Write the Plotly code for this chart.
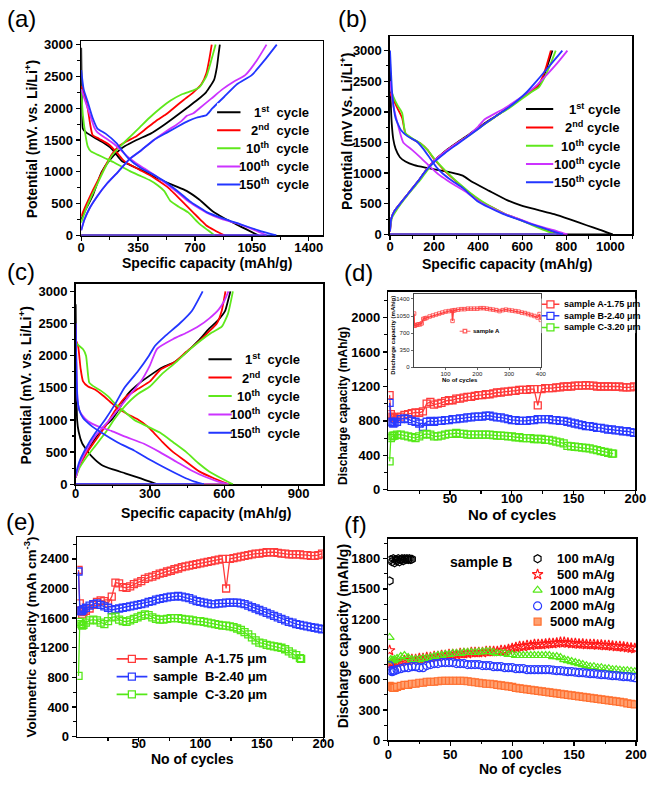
import plotly.graph_objects as go

W, H = 660, 785
FONT = "Liberation Sans"

# ===================== DATA =====================
# (a),(b),(c): galvanostatic profiles, points are (capacity mAh/g, potential mV)
a_1st_dis = [(0,2950),(3,2300),(6,1800),(10,1680),(30,1620),(80,1540),(130,1470),(180,1380),(220,1260),(250,1170),(290,1120),(340,1060),(400,990),(460,910),(520,840),(580,775),(648,700),(728,560),(808,380),(880,270),(949,180),(1020,90),(1090,0)]
a_1st_chg = [(0,250),(30,420),(70,620),(126,1000),(180,1200),(230,1330),(267,1400),(340,1500),(427,1600),(500,1720),(570,1850),(648,2000),(710,2120),(768,2250),(818,2450),(835,2650),(845,2850),(853,3000)]
a_2nd_dis = [(0,2350),(20,2200),(40,2000),(55,1750),(70,1580),(110,1520),(170,1430),(220,1300),(260,1180),(300,1110),(360,1030),(420,950),(480,850),(540,740),(580,640),(618,543),(688,362),(740,230),(768,160),(820,80),(881,0)]
a_2nd_chg = [(0,300),(30,480),(70,700),(110,900),(150,1100),(190,1280),(230,1400),(280,1480),(340,1560),(400,1680),(460,1800),(520,1900),(568,2000),(630,2130),(690,2250),(740,2380),(770,2550),(790,2800),(803,3000)]
a_10th_dis = [(0,2300),(10,1900),(25,1600),(40,1400),(60,1320),(100,1270),(150,1210),(200,1150),(250,1080),(300,1010),(360,940),(420,870),(470,790),(510,700),(548,543),(600,450),(658,362),(728,181),(780,80),(821,0)]
a_10th_chg = [(0,200),(30,420),(70,650),(110,870),(150,1080),(190,1260),(240,1400),(300,1550),(360,1700),(420,1850),(487,2000),(550,2120),(620,2220),(690,2280),(728,2330),(770,2500),(800,2750),(827,3000)]
a_100th_dis = [(0,2300),(20,2150),(40,2000),(60,1850),(80,1700),(100,1620),(150,1530),(200,1440),(240,1350),(280,1250),(330,1150),(390,1050),(450,950),(520,820),(590,680),(655,543),(710,450),(768,362),(870,250),(969,181),(1060,90),(1140,0)]
a_100th_chg = [(0,80),(20,250),(50,420),(100,620),(160,820),(227,1000),(297,1200),(370,1340),(447,1500),(530,1650),(580,1730),(618,1800),(650,1880),(690,1920),(728,2000),(800,2150),(870,2300),(940,2420),(1009,2520),(1080,2750),(1140,3000)]
a_150th_dis = [(0,2600),(15,2300),(40,2100),(70,1850),(100,1680),(150,1600),(217,1450),(287,1220),(367,1060),(440,960),(500,870),(560,760),(620,640),(665,543),(720,450),(775,362),(880,260),(980,175),(1090,80),(1200,0)]
a_150th_chg = [(0,80),(20,250),(50,420),(100,620),(160,820),(227,1000),(297,1200),(370,1340),(447,1500),(530,1620),(600,1720),(660,1800),(708,1850),(740,1870),(770,1890),(808,2000),(880,2180),(960,2380),(1049,2520),(1130,2760),(1203,3000)]

b_1st_dis = [(0,2900),(3,2200),(8,1800),(15,1550),(25,1400),(45,1260),(70,1190),(110,1130),(160,1090),(220,1050),(280,1010),(330,960),(376,850),(450,710),(531,560),(597,470),(670,400),(745,330),(820,240),(892,150),(950,80),(1010,0)]
b_1st_chg = [(0,50),(5,250),(20,380),(50,520),(90,700),(130,880),(160,1030),(200,1200),(250,1360),(300,1490),(350,1610),(400,1740),(440,1840),(480,1930),(530,2050),(580,2180),(630,2310),(665,2390),(695,2560),(715,2760),(737,3000)]
b_2nd_dis = [(0,2300),(15,2200),(35,2050),(55,1900),(70,1650),(100,1560),(140,1480),(170,1380),(200,1230),(240,1070),(280,930),(320,800),(360,680),(410,547),(470,430),(530,320),(583,250),(640,170),(700,90),(770,0)]
b_2nd_chg = [(0,50),(5,250),(20,380),(50,520),(90,700),(130,880),(160,1030),(200,1200),(250,1350),(300,1480),(350,1600),(400,1730),(440,1830),(480,1930),(530,2050),(580,2180),(630,2320),(665,2400),(690,2550),(710,2750),(730,3000)]
b_10th_dis = [(0,2400),(15,2250),(35,2100),(55,1980),(70,1650),(100,1570),(140,1480),(170,1380),(200,1240),(240,1080),(280,940),(320,810),(360,690),(415,547),(470,430),(530,320),(583,250),(640,160),(700,70),(755,0)]
b_10th_chg = [(0,100),(10,280),(30,400),(60,550),(100,730),(140,900),(170,1050),(210,1220),(260,1370),(310,1500),(360,1620),(410,1750),(450,1850),(490,1950),(540,2060),(590,2190),(640,2320),(675,2400),(700,2550),(725,2750),(752,3000)]
b_100th_dis = [(0,2500),(15,2100),(35,1800),(60,1500),(100,1380),(140,1250),(180,1110),(220,980),(260,880),(300,790),(350,680),(400,547),(450,450),(510,350),(570,270),(630,190),(700,110),(760,50),(805,0)]
b_100th_chg = [(0,50),(5,250),(20,380),(50,520),(90,700),(130,880),(160,1030),(200,1200),(250,1350),(300,1480),(350,1600),(400,1760),(430,1880),(470,1960),(520,2060),(580,2200),(630,2330),(670,2450),(710,2600),(760,2800),(805,3000)]
b_150th_dis = [(0,3000),(10,2300),(25,1900),(50,1700),(80,1600),(120,1520),(150,1400),(180,1250),(210,1100),(240,990),(280,880),(330,760),(395,547),(450,440),(510,340),(570,260),(630,180),(690,110),(740,50),(785,0)]
b_150th_chg = [(0,50),(5,250),(20,380),(50,520),(90,700),(130,880),(160,1030),(200,1180),(250,1330),(300,1460),(350,1590),(400,1720),(440,1830),(480,1930),(530,2050),(580,2190),(620,2320),(660,2480),(700,2650),(740,2820),(782,3000)]

c_1st_dis = [(0,2800),(3,1500),(6,1000),(12,820),(26,640),(45,530),(66,430),(105,300),(150,230),(200,170),(263,90),(300,40),(330,0)]
c_1st_chg = [(0,100),(15,300),(40,500),(80,720),(110,880),(145,1000),(180,1200),(210,1400),(260,1580),(342,1800),(400,1900),(447,2050),(500,2250),(539,2420),(575,2550),(604,2700),(615,2850),(625,3000)]
c_2nd_dis = [(0,2250),(10,2150),(20,1800),(30,1600),(50,1520),(80,1470),(110,1380),(140,1280),(170,1180),(210,1090),(250,1010),(290,900),(316,800),(350,660),(394,500),(440,370),(499,200),(560,90),(620,0)]
c_2nd_chg = [(0,100),(15,280),(40,460),(80,680),(120,900),(160,1150),(200,1350),(250,1480),(300,1600),(342,1780),(400,1900),(447,2060),(500,2230),(540,2380),(570,2500),(590,2700),(605,3000)]
c_10th_dis = [(0,2200),(15,2150),(30,2100),(42,2000),(55,1580),(70,1530),(100,1460),(130,1370),(160,1250),(200,1120),(237,1000),(290,900),(342,800),(395,650),(447,500),(495,330),(539,200),(590,90),(635,0)]
c_10th_chg = [(0,100),(15,250),(40,400),(80,600),(120,800),(160,1030),(200,1220),(250,1400),(300,1520),(350,1720),(400,1880),(450,2060),(500,2220),(550,2360),(590,2450),(615,2650),(635,3000)]
c_100th_dis = [(0,2500),(4,1700),(8,1300),(15,1150),(25,1080),(50,980),(90,900),(144,830),(200,740),(276,630),(340,500),(407,350),(470,210),(520,120),(570,50),(617,0)]
c_100th_chg = [(0,100),(15,300),(40,500),(80,750),(145,1036),(200,1300),(263,1597),(300,1850),(329,2107),(394,2260),(450,2360),(499,2464),(540,2580),(578,2720),(600,2850),(617,3000)]
c_150th_dis = [(0,2500),(4,1600),(8,1300),(15,1150),(30,1030),(60,920),(105,800),(170,650),(236,525),(300,380),(368,240),(430,120),(480,40),(518,0)]
c_150th_chg = [(0,150),(15,350),(40,550),(80,800),(118,1000),(160,1250),(197,1500),(250,1750),(296,2000),(320,2150),(360,2300),(420,2500),(470,2700),(513,3000)]

cycle_labels = ["1<sup>st</sup>", "2<sup>nd</sup>", "10<sup>th</sup>", "100<sup>th</sup>", "150<sup>th</sup>"]
cycle_colors = ["#000000", "#FF0000", "#5FE81C", "#CC33FF", "#2236FF"]

# (d),(e),(f): cycling data
cyc = [1, 2, 3, 4, 5] + list(range(7, 200, 3))
cyc_C = cyc[:64] + [182]

d_A = [1100, 880, 850, 840, 830,
       840, 850, 870, 880, 890, 900, 895, 910, 1000, 1020,
       990, 1000, 1010, 1030, 1040, 1040, 1060, 1060, 1070, 1080,
       1080, 1090, 1100, 1100, 1110, 1110, 1120, 1130, 1130, 1140,
       1140, 1150, 1150, 1160, 1160, 1160, 1170, 1170, 980, 1170,
       1180, 1180, 1180, 1190, 1190, 1200, 1200, 1200, 1210, 1210,
       1210, 1215, 1210, 1210, 1200, 1200, 1200, 1200, 1200, 1195,
       1200, 1190, 1190, 1190, 1200]
d_B = [1010, 790, 780, 770, 780,
       790, 820, 830, 820, 800, 790, 770, 730, 790, 800,
       790, 800, 800, 810, 810, 820, 820, 830, 830, 840,
       840, 850, 850, 850, 860, 860, 850, 840, 840, 830,
       820, 810, 810, 800, 800, 800, 810, 810, 820, 820,
       820, 820, 810, 810, 800, 800, 790, 780, 770, 760,
       750, 740, 740, 730, 720, 720, 710, 700, 700, 690,
       690, 680, 680, 670, 660]
d_C = [330, 600, 620, 630, 630,
       640, 640, 630, 620, 610, 600, 620, 640, 650, 640,
       620, 620, 630, 640, 650, 650, 660, 650, 650, 640,
       640, 640, 640, 640, 640, 640, 635, 630, 630, 625,
       620, 620, 610, 610, 600, 600, 600, 590, 590, 590,
       580, 580, 570, 560, 550, 540, 510, 505, 500, 495,
       490, 485, 480, 470, 460, 450, 440, 430, 420,
       420]

e_A = [2250, 1800, 1700, 1650, 1680,
       1700, 1730, 1780, 1820, 1840, 1830, 1800, 1890, 2080, 2070,
       2020, 2010, 2030, 2060, 2080, 2100, 2130, 2150, 2160, 2180,
       2200, 2210, 2230, 2240, 2260, 2270, 2290, 2300, 2310, 2320,
       2330, 2340, 2350, 2360, 2370, 2380, 2390, 2400, 2000, 2400,
       2410, 2420, 2430, 2440, 2450, 2460, 2470, 2470, 2480, 2490,
       2490, 2490, 2480, 2470, 2470, 2460, 2460, 2460, 2460, 2450,
       2450, 2440, 2440, 2450, 2470]
e_B = [2230, 1700, 1690, 1700, 1720,
       1740, 1770, 1790, 1800, 1780, 1760, 1740, 1710, 1720, 1730,
       1740, 1750, 1760, 1770, 1780, 1790, 1800, 1820, 1830, 1850,
       1860, 1870, 1880, 1890, 1890, 1900, 1890, 1880, 1870, 1850,
       1830, 1820, 1810, 1800, 1790, 1790, 1800, 1800, 1810, 1810,
       1810, 1810, 1800, 1790, 1770, 1750, 1730, 1710, 1690, 1670,
       1650, 1630, 1610, 1590, 1570, 1550, 1540, 1520, 1510, 1500,
       1490, 1480, 1470, 1460, 1450]
e_C = [820, 1550, 1520, 1500, 1510,
       1540, 1570, 1580, 1570, 1540, 1520, 1560, 1610, 1620, 1580,
       1560, 1550, 1570, 1590, 1610, 1630, 1650, 1640, 1610, 1590,
       1580, 1580, 1590, 1600, 1600, 1600, 1590, 1580, 1580, 1570,
       1560, 1560, 1550, 1540, 1530, 1520, 1510, 1500, 1500, 1490,
       1480, 1460, 1440, 1410, 1380, 1340, 1300, 1270, 1260, 1240,
       1230, 1220, 1210, 1200, 1180, 1150, 1120, 1100, 1060,
       1050]

f_cyc_100 = list(range(1, 20))
f_100 = [1580, 1790, 1770, 1800, 1760, 1790, 1780, 1800, 1770, 1790,
         1800, 1780, 1800, 1790, 1800, 1790, 1800, 1790, 1795]
f_500 = [890, 760, 760, 770, 770,
         770, 780, 790, 790, 800, 800, 810, 810, 820, 820,
         830, 830, 840, 840, 850, 850, 850, 860, 860, 860,
         870, 870, 870, 870, 880, 880, 880, 880, 890, 890,
         900, 910, 920, 930, 930, 940, 940, 950, 950, 950,
         955, 960, 960, 965, 970, 970, 965, 960, 960, 955,
         955, 950, 950, 950, 945, 945, 940, 940, 935, 930,
         930, 925, 920, 915, 910]
f_1000 = [1020, 800, 790, 790, 800,
          810, 830, 840, 820, 800, 800, 800, 810, 810, 820,
          830, 840, 840, 850, 850, 860, 860, 860, 870, 870,
          870, 870, 875, 875, 880, 880, 870, 860, 860, 860,
          850, 850, 840, 840, 840, 840, 840, 840, 840, 840,
          840, 840, 830, 830, 820, 800, 790, 780, 770, 760,
          750, 740, 730, 730, 720, 720, 710, 710, 700, 700,
          695, 690, 690, 685, 680]
f_2000 = [740, 690, 680, 690, 690,
          700, 710, 720, 720, 730, 730, 720, 720, 740, 750,
          760, 760, 770, 770, 770, 770, 760, 760, 760, 750,
          750, 750, 750, 740, 740, 740, 730, 730, 730, 720,
          720, 720, 710, 710, 710, 700, 700, 700, 700, 700,
          700, 700, 695, 690, 690, 685, 680, 680, 675, 670,
          670, 665, 660, 660, 655, 650, 650, 645, 640, 640,
          635, 630, 630, 625, 620]
f_5000 = [540, 530, 530, 520, 520,
          530, 540, 550, 550, 560, 560, 570, 570, 580, 580,
          580, 585, 590, 590, 590, 590, 590, 590, 590, 585,
          580, 575, 570, 565, 560, 560, 555, 550, 545, 540,
          535, 530, 520, 515, 510, 505, 500, 495, 490, 485,
          480, 475, 470, 465, 460, 455, 450, 445, 440, 435,
          430, 425, 420, 415, 410, 405, 400, 395, 390, 385,
          380, 375, 365, 360, 355]

# inset of (d): sample A over 400 cycles
ins_cyc = [1, 2, 5, 10, 15, 20, 25, 30, 35, 40, 50, 60, 70, 80, 90, 100, 110, 120, 122, 125,
           130, 140, 150, 160, 170, 180, 190, 200, 210, 220, 230, 240, 250, 260, 270, 280, 290, 300,
           310, 320, 330, 340, 350, 360, 370, 380, 390, 396, 400]
ins_A = [1100, 850, 860, 870, 880, 880, 900, 990, 1000, 1010, 1040, 1060, 1080, 1100, 1120, 1140,
         1150, 1160, 950, 1160, 1170, 1180, 1190, 1190, 1200, 1200, 1200, 1200, 1210, 1210, 1200,
         1190, 1180, 1170, 1150, 1170, 1180, 1170, 1160, 1150, 1140, 1120, 1110, 1090, 1070, 1050,
         1020, 1090, 970]

for arr in (d_A, d_B, e_A, e_B, f_500, f_1000, f_2000, f_5000):
    assert len(arr) == len(cyc), len(arr)
for arr in (d_C, e_C):
    assert len(arr) == len(cyc_C), len(arr)
assert len(ins_A) == len(ins_cyc)
assert len(f_100) == len(f_cyc_100)

sampleABC = ["sample A-1.75 \u03bcm", "sample B-2.40 \u03bcm", "sample C-3.20 \u03bcm"]
sampleABC_e = ["sample\u00a0 A-1.75 \u03bcm", "sample\u00a0 B-2.40 \u03bcm", "sample\u00a0 C-3.20 \u03bcm"]
rate_labels = ["100 mA/g", "500 mA/g", "1000 mA/g", "2000 mA/g", "5000 mA/g"]

# ===================== STYLE / LAYOUT =====================
def dom_x(l, r):
    return [l / W, r / W]

def dom_y(t, b):
    return [1 - b / H, 1 - t / H]

TICKFONT = dict(family=FONT, size=13, color="black", weight="bold")

def axis(domain, rng, anchor, minor=None, **kw):
    d = dict(domain=domain, range=rng, anchor=anchor, showline=True, linecolor="black",
             linewidth=1.6, mirror=True, ticks="outside", ticklen=4, tickwidth=1.3,
             tickcolor="black", showgrid=False, zeroline=False, tickfont=TICKFONT,
             fixedrange=True)
    if minor is not None:
        m = dict(ticks="outside", ticklen=2.5, tickwidth=1.1, tickcolor="black", showgrid=False)
        m.update(minor)
        d["minor"] = m
    d.update(kw)
    return d

layout = dict(width=W, height=H, margin=dict(l=0, r=0, t=0, b=0),
              paper_bgcolor="white", plot_bgcolor="white", showlegend=False)

# panel domains (pixels)
PA = dict(x=(79, 326), y=(38, 235))
PB = dict(x=(395, 643), y=(33, 234))
PC = dict(x=(73.3, 326.7), y=(284, 487.7))
PD = dict(x=(393.3, 646), y=(292.3, 493.3))
PE = dict(x=(75, 326.7), y=(541.7, 744))
PF = dict(x=(393.3, 646.7), y=(543.3, 747.7))
PI = dict(x=(419.3, 549.3), y=(295, 369))

layout["xaxis"] = axis(dom_x(*PA["x"]), [0, 1485], "y", tick0=0, dtick=350,
                       minor=dict(tick0=0, dtick=175), layer="below traces", ticklabelstandoff=-5)
layout["yaxis"] = axis(dom_y(*PA["y"]), [0, 3050], "x", tick0=0, dtick=500,
                       minor=dict(tick0=0, dtick=250))
layout["xaxis2"] = axis(dom_x(*PB["x"]), [0, 1100], "y2", tick0=0, dtick=200,
                        minor=dict(tick0=0, dtick=100), layer="below traces", ticklabelstandoff=-5)
layout["yaxis2"] = axis(dom_y(*PB["y"]), [0, 3230], "x2", tick0=0, dtick=500,
                        minor=dict(tick0=0, dtick=250))
layout["xaxis3"] = axis(dom_x(*PC["x"]), [0, 1000], "y3", tick0=0, dtick=300,
                        minor=dict(tick0=0, dtick=150), layer="below traces", ticklabelstandoff=-7)
layout["yaxis3"] = axis(dom_y(*PC["y"]), [0, 3120], "x3", tick0=0, dtick=500,
                        minor=dict(tick0=0, dtick=250))
layout["xaxis4"] = axis(dom_x(*PD["x"]), [0, 200], "y4", tickmode="array",
                        tickvals=[50, 100, 150, 200], ticklabelstandoff=-8,
                        minor=dict(tickmode="array", tickvals=[25, 75, 125, 175]))
layout["yaxis4"] = axis(dom_y(*PD["y"]), [0, 2300], "x4", tick0=0, dtick=400,
                        minor=dict(tick0=0, dtick=200))
layout["xaxis5"] = axis(dom_x(*PE["x"]), [0, 200], "y5", tickmode="array",
                        tickvals=[50, 100, 150, 200], ticklabelstandoff=-10,
                        minor=dict(tickmode="array", tickvals=[25, 75, 125, 175]))
layout["yaxis5"] = axis(dom_y(*PE["y"]), [0, 2690], "x5", tick0=0, dtick=400,
                        minor=dict(tick0=0, dtick=200))
layout["xaxis6"] = axis(dom_x(*PF["x"]), [0, 200], "y6", tick0=0, dtick=50,
                        minor=dict(tick0=0, dtick=25), ticklabelstandoff=-2)
layout["yaxis6"] = axis(dom_y(*PF["y"]), [0, 1995], "x6", tick0=0, dtick=300,
                        minor=dict(tick0=0, dtick=150))
INSFONT = dict(family=FONT, size=6, color="#222222")
layout["xaxis7"] = axis(dom_x(*PI["x"]), [0, 400], "y7", tickmode="array",
                        tickvals=[100, 200, 300, 400], tickfont=INSFONT, linecolor="#444444",
                        linewidth=1, ticklen=2, tickwidth=0.8, tickcolor="#444444",
                        ticklabelstandoff=-2)
layout["yaxis7"] = axis(dom_y(*PI["y"]), [0, 1490], "x7", tick0=0, dtick=350,
                        tickfont=INSFONT, linecolor="#444444", linewidth=1, ticklen=2,
                        tickwidth=0.8, tickcolor="#444444")

traces = []
annotations = []

def add_profiles(panel_curves, xa, ya):
    for (dis, chg), col in zip(panel_curves, cycle_colors):
        traces.append(go.Scatter(x=[p[0] for p in dis], y=[p[1] for p in dis], mode="lines",
                                 line=dict(color=col, width=1.8, shape="spline", smoothing=0.5),
                                 xaxis=xa, yaxis=ya, hoverinfo="skip"))
        traces.append(go.Scatter(x=[dis[-1][0], chg[0][0]], y=[dis[-1][1], dis[-1][1]], mode="lines",
                                 line=dict(color=col, width=1.8), xaxis=xa, yaxis=ya, hoverinfo="skip"))
        traces.append(go.Scatter(x=[p[0] for p in chg], y=[p[1] for p in chg], mode="lines",
                                 line=dict(color=col, width=1.8, shape="spline", smoothing=0.5),
                                 xaxis=xa, yaxis=ya, hoverinfo="skip"))

add_profiles([(a_1st_dis, a_1st_chg), (a_2nd_dis, a_2nd_chg), (a_10th_dis, a_10th_chg),
              (a_100th_dis, a_100th_chg), (a_150th_dis, a_150th_chg)], "x", "y")
add_profiles([(b_1st_dis, b_1st_chg), (b_2nd_dis, b_2nd_chg), (b_10th_dis, b_10th_chg),
              (b_100th_dis, b_100th_chg), (b_150th_dis, b_150th_chg)], "x2", "y2")
add_profiles([(c_1st_dis, c_1st_chg), (c_2nd_dis, c_2nd_chg), (c_10th_dis, c_10th_chg),
              (c_100th_dis, c_100th_chg), (c_150th_dis, c_150th_chg)], "x3", "y3")

ABC_COLORS = ["#FF3B3B", "#2B3BFF", "#55E818"]

def add_cycling(series, xa, ya, msize):
    for (xs, ys), col in zip(series, ABC_COLORS):
        traces.append(go.Scatter(x=xs, y=ys, mode="lines+markers",
                                 line=dict(color=col, width=1.3),
                                 marker=dict(symbol="square-open", size=msize, color=col,
                                             line=dict(width=1.3, color=col)),
                                 xaxis=xa, yaxis=ya, hoverinfo="skip"))

add_cycling([(cyc, d_A), (cyc, d_B), (cyc_C, d_C)], "x4", "y4", 7)
add_cycling([(cyc, e_A), (cyc, e_B), (cyc_C, e_C)], "x5", "y5", 7)

traces.append(go.Scatter(x=ins_cyc, y=ins_A, mode="lines+markers", line=dict(color="#FF4040", width=1.4),
                         marker=dict(symbol="square-open", size=3.5, color="#FF4040",
                                     line=dict(width=0.8, color="#FF4040")),
                         xaxis="x7", yaxis="y7", hoverinfo="skip"))

RATE_STYLE = [
    dict(symbol="hexagon-open", size=8, color="#000000", line=dict(width=1.2, color="#000000")),
    dict(symbol="star-open", size=8, color="#FF1A1A", line=dict(width=1.2, color="#FF1A1A")),
    dict(symbol="triangle-up-open", size=8, color="#55E818", line=dict(width=1.2, color="#55E818")),
    dict(symbol="circle-open", size=8, color="#2B3BFF", line=dict(width=1.2, color="#2B3BFF")),
    dict(symbol="square", size=7, color="#FFA070", line=dict(width=1.2, color="#FF7030")),
]
for (xs, ys), st in zip([(f_cyc_100, f_100), (cyc, f_500), (cyc, f_1000), (cyc, f_2000), (cyc, f_5000)],
                        RATE_STYLE):
    traces.append(go.Scatter(x=xs, y=ys, mode="markers", marker=st, xaxis="x6", yaxis="y6",
                             hoverinfo="skip"))

# ---------- legends drawn on small hidden axes ----------
leg_idx = [7]

def legend_axes(n, left, right, top_row, spacing):
    leg_idx[0] += 1
    i = leg_idx[0]
    layout[f"xaxis{i}"] = dict(domain=dom_x(left, right), range=[0, right - left], visible=False,
                               fixedrange=True, anchor=f"y{i}")
    layout[f"yaxis{i}"] = dict(domain=dom_y(top_row - spacing / 2, top_row + (n - 0.5) * spacing),
                               range=[n - 0.5, -0.5], visible=False, fixedrange=True, anchor=f"x{i}")
    return f"x{i}", f"y{i}"

def legend_text(xa, ya, x, y, text, size, anchor):
    annotations.append(dict(xref=xa, yref=ya, x=x, y=y, text=text, showarrow=False,
                            xanchor=anchor, yanchor="middle",
                            font=dict(family=FONT, size=size, color="black", weight="bold")))

def line_legend(left, right, top_row, spacing, line_len, sep):
    xa, ya = legend_axes(5, left, right, top_row, spacing)
    for r, (lab, col) in enumerate(zip(cycle_labels, cycle_colors)):
        traces.append(go.Scatter(x=[0, line_len], y=[r, r], mode="lines", line=dict(color=col, width=2),
                                 xaxis=xa, yaxis=ya, hoverinfo="skip"))
        legend_text(xa, ya, right - left, r, lab + sep + "cycle", 13, "right")

line_legend(218, 314, 110, 18.3, 24, "\u00a0 ")
line_legend(534, 632, 106.7, 18.6, 28, " ")
line_legend(209, 305, 360.7, 18.7, 24, "\u00a0 ")

def sample_legend(labels, left, right, top_row, spacing, line_len, msize, tx, fsize, colors, lw):
    xa, ya = legend_axes(len(labels), left, right, top_row, spacing)
    for r, (lab, col) in enumerate(zip(labels, colors)):
        traces.append(go.Scatter(x=[0, line_len], y=[r, r], mode="lines", line=dict(color=col, width=lw),
                                 xaxis=xa, yaxis=ya, hoverinfo="skip"))
        traces.append(go.Scatter(x=[line_len / 2], y=[r], mode="markers",
                                 marker=dict(symbol="square", size=msize, color="white",
                                             line=dict(color=col, width=1.3)),
                                 xaxis=xa, yaxis=ya, hoverinfo="skip"))
        legend_text(xa, ya, tx, r, lab, fsize, "left")

sample_legend(sampleABC, 550, 646, 305, 11.7, 18.3, 7, 20.7, 9, ABC_COLORS, 1.5)
sample_legend(sampleABC_e, 115, 270, 665, 18, 31.7, 7, 35, 13, ABC_COLORS, 1.8)
sample_legend(["sample A"], 466, 510, 332.3, 8, 11.3, 3.5, 12.3, 6, ["#FF6060"], 1)

xa, ya = legend_axes(5, 538, 627, 563.3, 16)
for r, (lab, st) in enumerate(zip(rate_labels, RATE_STYLE)):
    traces.append(go.Scatter(x=[8], y=[r], mode="markers", marker=st, xaxis=xa, yaxis=ya,
                             hoverinfo="skip"))
    legend_text(xa, ya, 627 - 538, r, lab, 13, "right")

# ---------- titles & labels ----------
def ptext(x, y, text, size, angle=0, bold=True, color="black"):
    annotations.append(dict(xref="paper", yref="paper", x=x / W, y=1 - y / H, text=text,
                            showarrow=False, xanchor="center", yanchor="middle", textangle=angle,
                            font=dict(family=FONT, size=size, color=color,
                                      weight="bold" if bold else "normal")))

pot1 = "Potential (mV. vs. Li/Li<sup>+</sup>)"
pot2 = "Potential (mV Vs. Li/Li<sup>+</sup>)"
spc = "Specific capacity (mAh/g)"
dcap = "Discharge capacity (mAh/g)"
ncyc = "No of cycles"

ptext(28, 137, pot1, 14, -90)
ptext(208, 263, spc, 14)
ptext(350, 130, pot2, 14, -90)
ptext(515, 264, spc, 14)
ptext(22, 388, pot1, 14, -90)
ptext(207, 517, spc, 14)
ptext(347, 408, dcap, 12, -90)
ptext(520, 518, ncyc, 15)
ptext(27, 643, "Volumetric capacity (mAh cm<sup>-3</sup>)", 13.5, -90)
ptext(193, 767, ncyc, 14)
ptext(347, 642, dcap, 14, -90)
ptext(528, 777, ncyc, 14)
ptext(398, 336, dcap, 6, -90)
ptext(467, 382, ncyc, 6)
ptext(488, 567, "sample B", 14)

for (x, y, lab) in [(18, 15, "(a)"), (357, 15, "(b)"), (17, 272, "(c)"), (363, 273, "(d)"),
                    (17, 526, "(e)"), (360, 529, "(f)")]:
    ptext(x, y, lab, 24, bold=False)

layout["annotations"] = annotations

fig = go.Figure(data=traces, layout=layout)
fig.write_html("out.html", config=dict(displayModeBar=False, staticPlot=True),
               post_script="document.body.style.margin='0px';document.body.style.overflow='hidden';")
